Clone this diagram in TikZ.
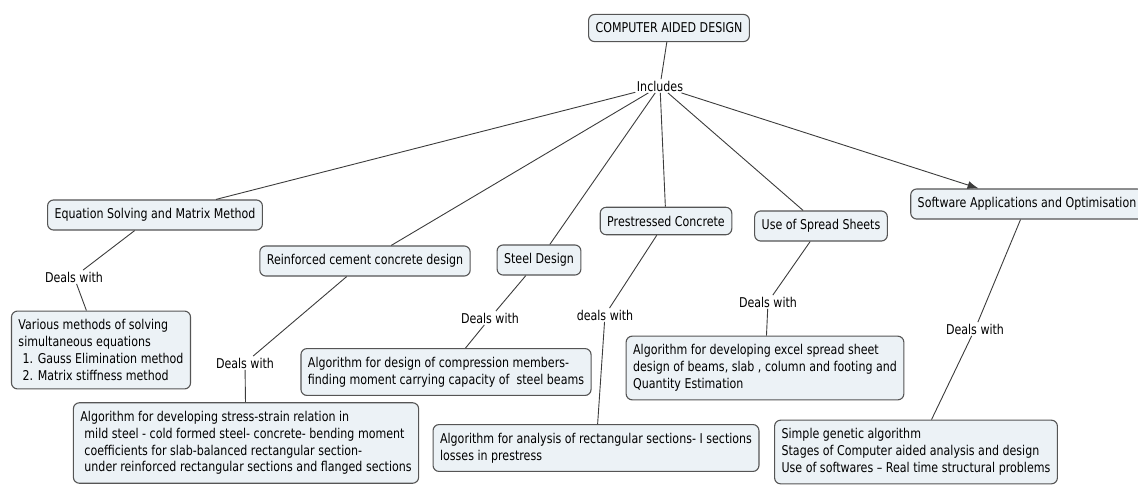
\documentclass[tikz,border=0pt]{standalone}
\usepackage{fontspec}
\setmainfont{DejaVu Sans}[FakeStretch=0.82]
\usetikzlibrary{arrows.meta,positioning}
\definecolor{conceptfill}{RGB}{236,242,246}
\definecolor{conceptline}{RGB}{85,85,85}
\definecolor{linkgray}{RGB}{60,60,60}

\tikzset{
  concept/.style={draw=conceptline,fill=conceptfill,rounded corners=6pt,line width=1.1pt,
    font=\fontsize{13.5}{16.8}\selectfont,inner xsep=7pt,inner ysep=8.5pt,align=left},
  linkword/.style={font=\fontsize{13.5}{15}\selectfont,inner sep=1.5pt,fill=white},
  link/.style={draw=linkgray,line width=0.9pt}
}

\begin{document}
\begin{tikzpicture}[x=1pt,y=-1pt]
\useasboundingbox (0,0) rectangle (1138,485);
% top concept
\node[concept] (cad) at (669,28) {COMPUTER AIDED DESIGN};
\node[linkword] (inc) at (660,86) {Includes};
% second level
\node[concept] (eqn) at (155,215) {Equation Solving and Matrix Method};
\node[concept] (rcc) at (365,261) {Reinforced cement concrete design};
\node[concept] (steel) at (539,260) {Steel Design};
\node[concept] (pre) at (666,221) {Prestressed Concrete};
\node[concept] (sheet) at (821,226) {Use of Spread Sheets};
\node[concept] (soft) at (1027,204) {Software Applications and Optimisation};
% linking words
\node[linkword] (dw1) at (74,277) {Deals with};
\node[linkword] (dw2) at (245,363) {Deals with};
\node[linkword] (dw3) at (490,318) {Deals with};
\node[linkword] (dw4) at (605,315) {deals with};
\node[linkword] (dw5) at (768,302) {Deals with};
\node[linkword] (dw6) at (975,329) {Deals with};
% bottom concepts
\node[concept] (eqnalg) at (101,350) {Various methods of solving\\simultaneous equations\\\hspace{0.3em}1. Gauss Elimination method\\\hspace{0.3em}2. Matrix stiffness method};
\node[concept] (rccalg) at (246,443) {Algorithm for developing stress-strain relation in\\\hspace{0.3em}mild steel - cold formed steel- concrete- bending moment\\\hspace{0.3em}coefficients for slab-balanced rectangular section-\\\hspace{0.3em}under reinforced rectangular sections and flanged sections};
\node[concept] (steelalg) at (446,372) {Algorithm for design of compression members-\\finding moment carrying capacity of\ \ steel beams};
\node[concept] (prealg) at (596,448) {Algorithm for analysis of rectangular sections- I sections\\losses in prestress};
\node[concept] (sheetalg) at (765,368) {Algorithm for developing excel spread sheet\\design of beams, slab , column and footing and\\Quantity Estimation};
\node[concept] (softalg) at (916,452) {Simple genetic algorithm\\Stages of Computer aided analysis and design\\Use of softwares -- Real time structural problems};
% connectors
\draw[link] (cad) -- (inc);
\foreach \c in {eqn,rcc,steel,pre,sheet}
  \draw[link] (inc) -- (\c);
\draw[link,-{Latex[length=11pt,width=8pt]}] (inc) -- (soft);
\draw[link] (eqn) -- (dw1) -- (eqnalg);
\draw[link] (rcc) -- (dw2) -- (rccalg);
\draw[link] (steel) -- (dw3) -- (steelalg);
\draw[link] (pre) -- (dw4) -- (prealg);
\draw[link] (sheet) -- (dw5) -- (sheetalg);
\draw[link] (soft) -- (dw6) -- (softalg);
\end{tikzpicture}
\end{document}
